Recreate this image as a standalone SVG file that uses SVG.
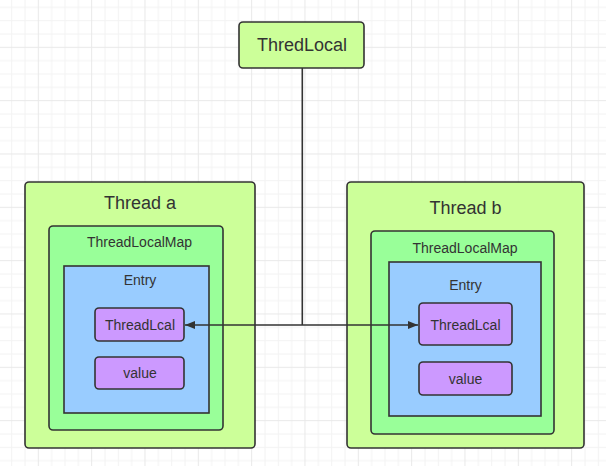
<svg xmlns="http://www.w3.org/2000/svg" width="606" height="466" viewBox="0 0 606 466">
  <defs>
    <pattern id="grid" patternUnits="userSpaceOnUse" x="37.8" y="46.8" width="53.333" height="53.333">
      <rect x="0" y="0" width="53.333" height="53.333" fill="#ffffff"/>
      <rect x="13.333" y="0" width="1" height="53.333" fill="#f3f3f3"/>
      <rect x="26.667" y="0" width="1" height="53.333" fill="#f3f3f3"/>
      <rect x="40" y="0" width="1" height="53.333" fill="#f3f3f3"/>
      <rect x="0" y="13.333" width="53.333" height="1" fill="#f3f3f3"/>
      <rect x="0" y="26.667" width="53.333" height="1" fill="#f3f3f3"/>
      <rect x="0" y="40" width="53.333" height="1" fill="#f3f3f3"/>
      <rect x="0" y="0" width="1" height="53.333" fill="#e9e9e9"/>
      <rect x="0" y="0" width="53.333" height="1" fill="#e9e9e9"/>
    </pattern>
    <marker id="arrow" viewBox="0 0 10 8" refX="10" refY="4" markerWidth="10" markerHeight="8" markerUnits="userSpaceOnUse" orient="auto-start-reverse">
      <path d="M0,0 L10,4 L0,8 Z" fill="#333333"/>
    </marker>
  </defs>
  <style>
    .box { stroke: #333333; stroke-width: 1.6; }
    .thread { fill: #ccff99; }
    .map { fill: #99ff99; }
    .entry { fill: #99ccff; }
    .item { fill: #cc99ff; }
    text { font-family: "Liberation Sans", Arial, sans-serif; fill: #333333; text-anchor: middle; }
    .big { font-size: 18px; }
    .small { font-size: 14px; }
    .conn { stroke: #333333; stroke-width: 1.6; fill: none; }
  </style>
  <rect x="0" y="0" width="606" height="466" fill="url(#grid)"/>

  <g id="threadlocal">
    <rect class="box thread" x="239" y="22" width="125" height="46" rx="4"/>
    <text class="big" x="302" y="51">ThredLocal</text>
  </g>

  <g id="thread-a">
    <rect class="box thread" x="25" y="182" width="230" height="266" rx="4"/>
    <text class="big" x="140" y="208.5">Thread a</text>
  </g>
  <g id="map-a">
    <rect class="box map" x="49" y="226" width="174" height="204" rx="4"/>
    <text class="small" x="139.5" y="247">ThreadLocalMap</text>
  </g>
  <g id="entry-a">
    <rect class="box entry" x="64" y="266" width="145" height="147"/>
    <text class="small" x="140" y="285">Entry</text>
  </g>
  <g id="key-a">
    <rect class="box item" x="95" y="308" width="89" height="33" rx="4"/>
    <text class="small" x="140" y="330">ThreadLcal</text>
  </g>
  <g id="value-a">
    <rect class="box item" x="95" y="357" width="89" height="32" rx="4"/>
    <text class="small" x="140" y="378">value</text>
  </g>

  <g id="thread-b">
    <rect class="box thread" x="347" y="182" width="237" height="266" rx="4"/>
    <text class="big" x="465.5" y="214">Thread b</text>
  </g>
  <g id="map-b">
    <rect class="box map" x="371" y="231" width="183" height="203" rx="4"/>
    <text class="small" x="465" y="252.5">ThreadLocalMap</text>
  </g>
  <g id="entry-b">
    <rect class="box entry" x="389" y="262" width="152" height="154"/>
    <text class="small" x="465.5" y="290">Entry</text>
  </g>
  <g id="key-b">
    <rect class="box item" x="419" y="303" width="93" height="42" rx="4"/>
    <text class="small" x="465.5" y="330">ThreadLcal</text>
  </g>
  <g id="value-b">
    <rect class="box item" x="419" y="362" width="93" height="33" rx="4"/>
    <text class="small" x="465.5" y="383.5">value</text>
  </g>

  <g id="connectors">
    <path class="conn" d="M302.3,68 L302.3,325"/>
    <path class="conn" d="M185,325 L418,325" marker-start="url(#arrow)" marker-end="url(#arrow)"/>
  </g>
</svg>
